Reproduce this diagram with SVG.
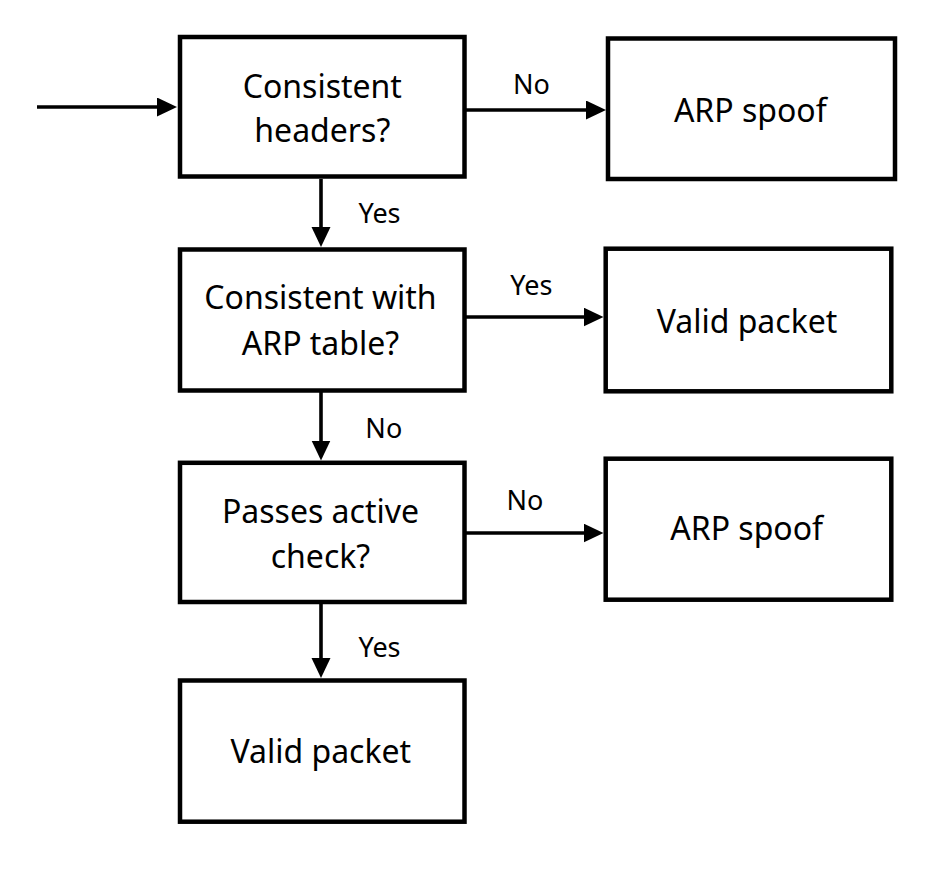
<svg xmlns="http://www.w3.org/2000/svg" width="946" height="872" viewBox="0 0 946 872">
<style>
.box{fill:#fff;stroke:#000;stroke-width:4.5}
.t{font-family:"Noto Sans","Open Sans",sans-serif;font-size:32px;fill:#000;text-anchor:middle}
.l{font-family:"Noto Sans","Open Sans",sans-serif;font-size:27px;fill:#000;text-anchor:middle}
.c{stroke:#000;stroke-width:3.6;fill:none;marker-end:url(#ah)}
</style>
<defs>
<marker id="ah" markerUnits="userSpaceOnUse" markerWidth="22" markerHeight="20" refX="2" refY="9.5" orient="auto">
<path d="M0,0 L20,9.5 L0,19 z" fill="#000"/>
</marker>
</defs>
<rect width="946" height="872" fill="#fff"/>
<g id="connectors">
<line class="c" x1="37" y1="107" x2="159" y2="107"/>
<line class="c" x1="466" y1="110" x2="588" y2="110"/>
<line class="c" x1="321" y1="179" x2="321" y2="229"/>
<line class="c" x1="466" y1="317" x2="585.5" y2="317"/>
<line class="c" x1="321" y1="392" x2="321" y2="442.5"/>
<line class="c" x1="466" y1="533" x2="585.5" y2="533"/>
<line class="c" x1="321" y1="604" x2="321" y2="660"/>
<text class="l" x="531.5" y="94">No</text>
<text class="l" x="379.5" y="223.3">Yes</text>
<text class="l" x="531.3" y="295">Yes</text>
<text class="l" x="383.8" y="438.3">No</text>
<text class="l" x="525" y="510">No</text>
<text class="l" x="379.5" y="656.7">Yes</text>
</g>
<g id="n1">
<rect class="box" x="180" y="37" width="284.5" height="139.5"/>
<text class="t" x="322.3" y="98.3">Consistent</text>
<text class="t" x="322.3" y="141.7">headers?</text>
</g>
<g id="n2">
<rect class="box" x="608" y="38.5" width="287" height="140.5"/>
<text class="t" x="750.3" y="121.7">ARP spoof</text>
</g>
<g id="n3">
<rect class="box" x="180" y="249.5" width="284.5" height="141"/>
<text class="t" x="320.5" y="309.3">Consistent with</text>
<text class="t" x="320.5" y="355">ARP table?</text>
</g>
<g id="n4">
<rect class="box" x="605.7" y="248.7" width="285.6" height="142.6"/>
<text class="t" x="747" y="333.3">Valid packet</text>
</g>
<g id="n5">
<rect class="box" x="180" y="462.8" width="284.5" height="139.2"/>
<text class="t" x="320.5" y="523.3">Passes active</text>
<text class="t" x="320.5" y="568.3">check?</text>
</g>
<g id="n6">
<rect class="box" x="605.7" y="458.7" width="285.6" height="141"/>
<text class="t" x="746.7" y="540">ARP spoof</text>
</g>
<g id="n7">
<rect class="box" x="180" y="680.5" width="284.5" height="141.2"/>
<text class="t" x="320.8" y="763.3">Valid packet</text>
</g>
</svg>
